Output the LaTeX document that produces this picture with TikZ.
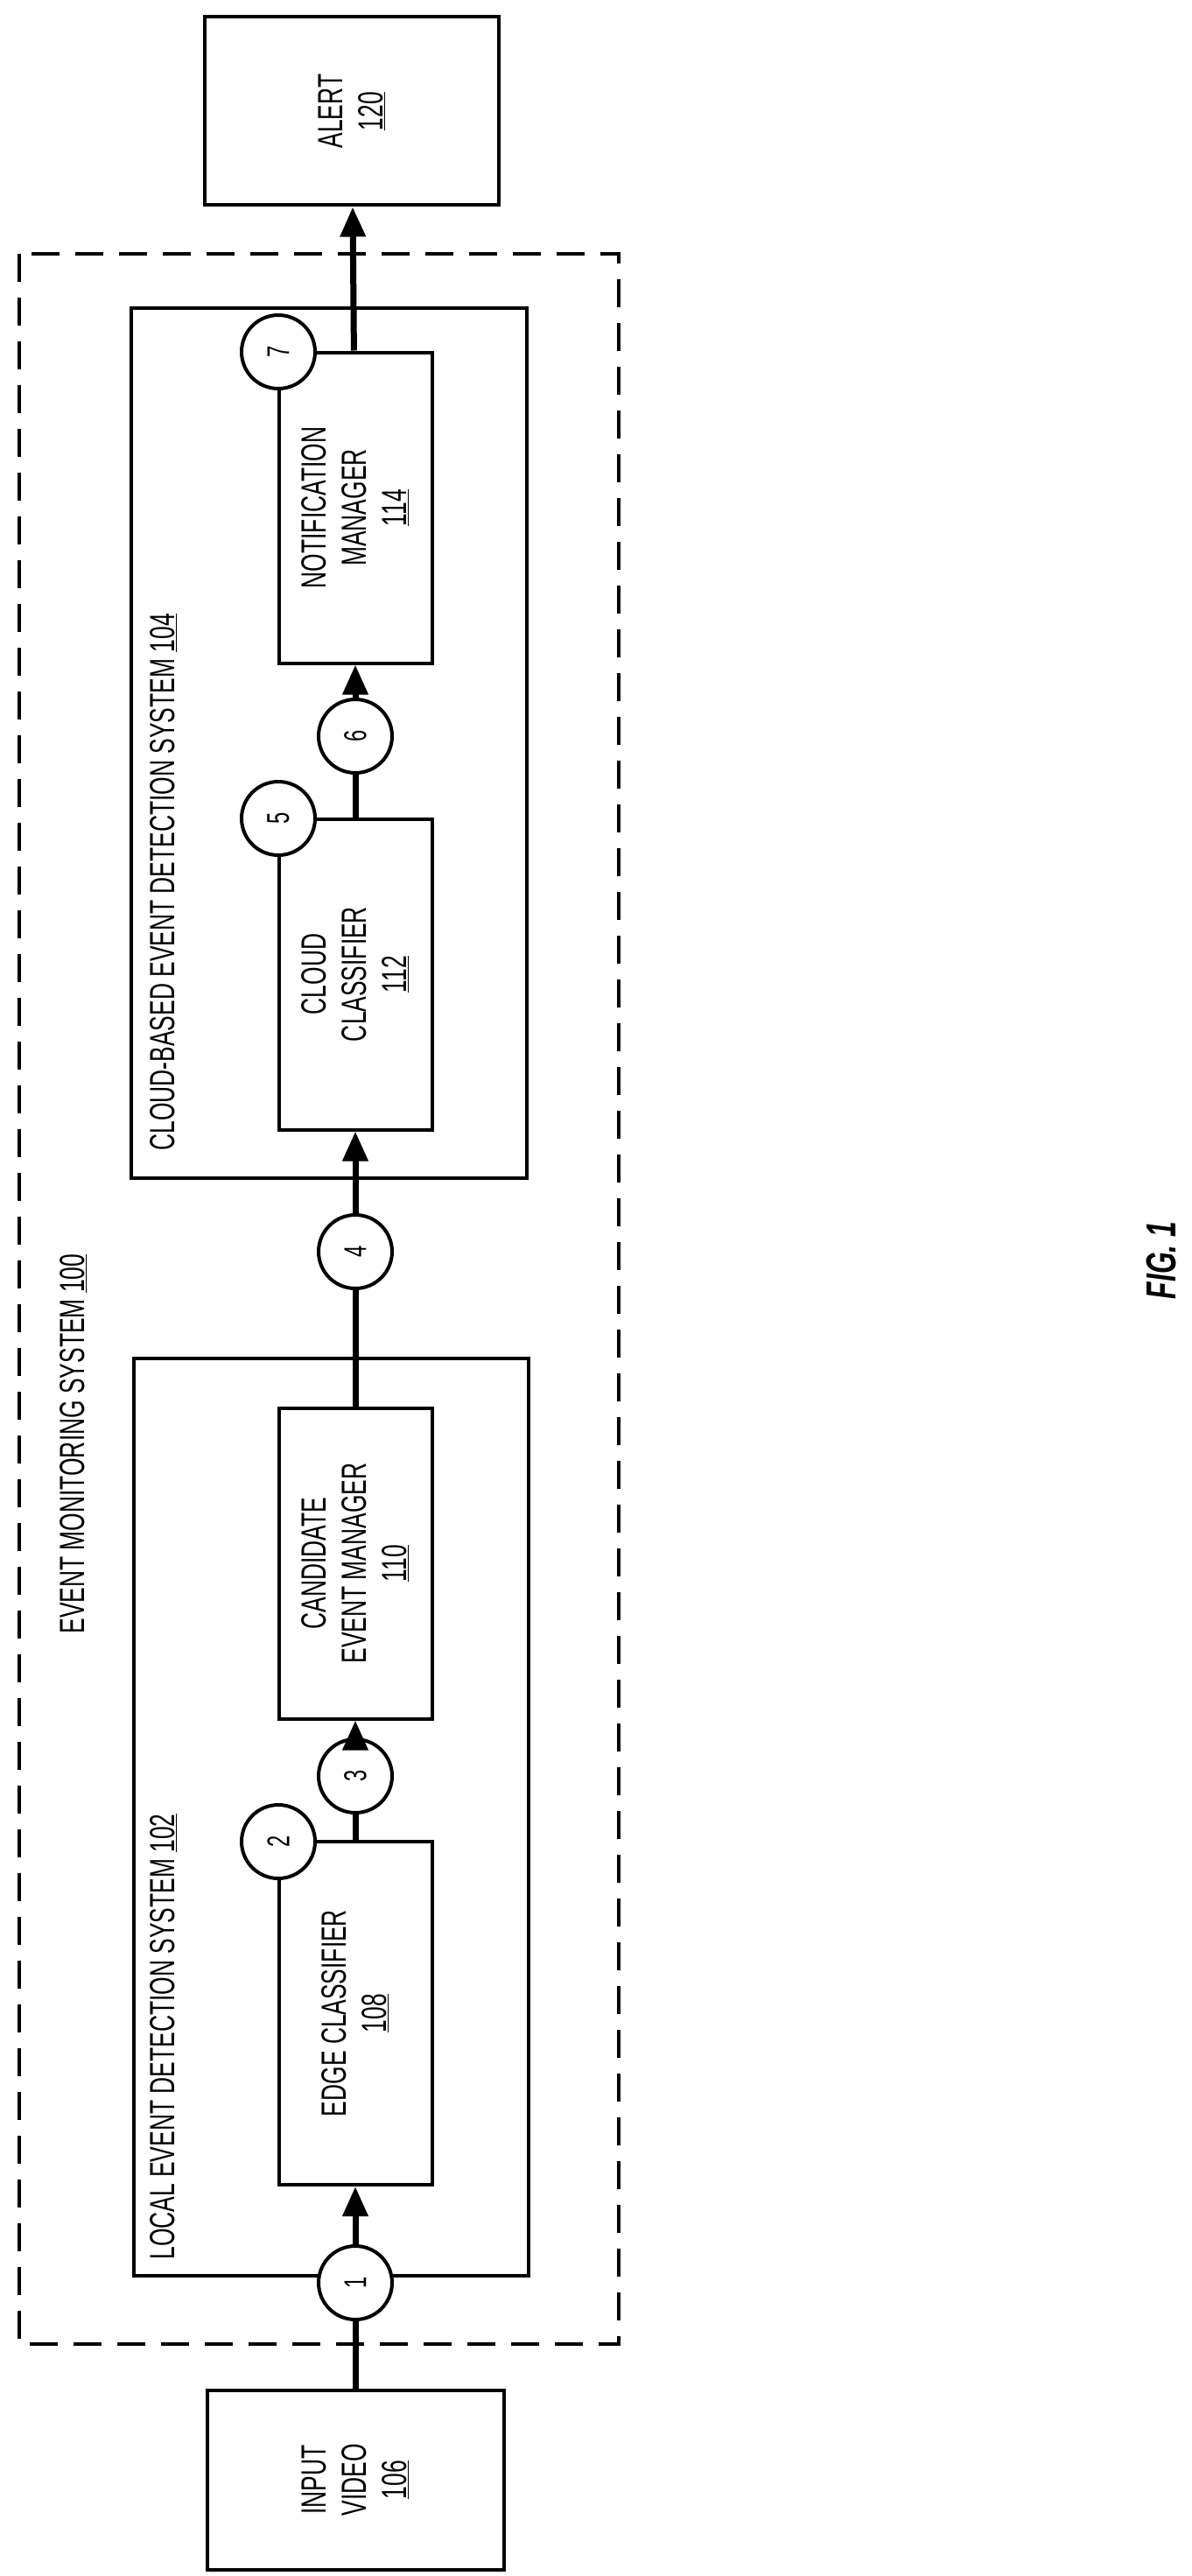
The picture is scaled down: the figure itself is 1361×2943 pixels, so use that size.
\documentclass[tikz,border=0pt]{standalone}
\usepackage{fontspec}
\setmainfont[FakeStretch=0.66]{Liberation Sans}
\usetikzlibrary{arrows.meta}
\tikzset{
  box/.style={draw, line width=4pt, align=center, font=\fontsize{40}{46}\selectfont, rotate=90},
  num/.style={draw, circle, fill=white, line width=4pt, minimum size=84pt, inner sep=0pt, font=\fontsize{36}{40}\selectfont, rotate=90},
  link/.style={line width=7pt},
  flow/.style={link, -{Triangle[length=34pt,width=28pt]}},
  lbl/.style={font=\fontsize{40}{46}\selectfont, rotate=90, anchor=west}
}
\begin{document}
\begin{tikzpicture}[x=1pt,y=-1pt]
  \useasboundingbox (0,0) rectangle (1361,2943);
  % outer system
  \draw[line width=4pt, dash pattern=on 32pt off 18pt] (22,290) rectangle (707,2678);
  \node[lbl] (ems) at (84,1870) {EVENT MONITORING SYSTEM \underline{100}};
  \draw[line width=4pt] (153,1552) rectangle (604,2600);
  \node[lbl] (les) at (187,2585) {LOCAL EVENT DETECTION SYSTEM \underline{102}};
  \draw[line width=4pt] (150,352) rectangle (602,1346);
  \node[lbl] (ces) at (187,1318) {CLOUD-BASED EVENT DETECTION SYSTEM \underline{104}};
  % blocks
  \node[box, minimum width=205pt, minimum height=339pt] (video) at (406,2833) {INPUT\\VIDEO\\\underline{106}};
  \node[box, minimum width=392pt, minimum height=175pt] (edge) at (406,2300) {EDGE CLASSIFIER\\\underline{108}};
  \node[box, minimum width=355pt, minimum height=175pt] (cand) at (406,1786) {CANDIDATE\\EVENT MANAGER\\\underline{110}};
  \node[box, minimum width=355pt, minimum height=175pt] (cloud) at (406,1113) {CLOUD\\CLASSIFIER\\\underline{112}};
  \node[box, minimum width=355pt, minimum height=175pt] (notify) at (406,580) {NOTIFICATION\\MANAGER\\\underline{114}};
  \node[box, minimum width=215pt, minimum height=336pt] (alert) at (402,127) {ALERT\\\underline{120}};
  % step numbers
  \node[num] (s1) at (406,2608) {1};
  \node[num] (s2) at (318,2104) {2};
  \node[num] (s3) at (406,2029) {3};
  \node[num] (s4) at (406,1430) {4};
  \node[num] (s5) at (318,935) {5};
  \node[num] (s6) at (406,841) {6};
  \node[num] (s7) at (318,402) {7};
  % connectors
  \draw[link] (video) -- (s1);
  \draw[flow] (s1) -- (edge);
  \draw[link] (edge) -- (s3);
  \draw[flow] (s3) -- (cand);
  \draw[link] (cand) -- (s4);
  \draw[flow] (s4) -- (cloud);
  \draw[link] (cloud) -- (s6);
  \draw[flow] (s6) -- (notify);
  \draw[flow] (notify) -- (alert);
  \node[font=\fontsize{48}{52}\selectfont\bfseries\itshape, rotate=90] (fig) at (1327,1440) {FIG. 1};
\end{tikzpicture}
\end{document}
